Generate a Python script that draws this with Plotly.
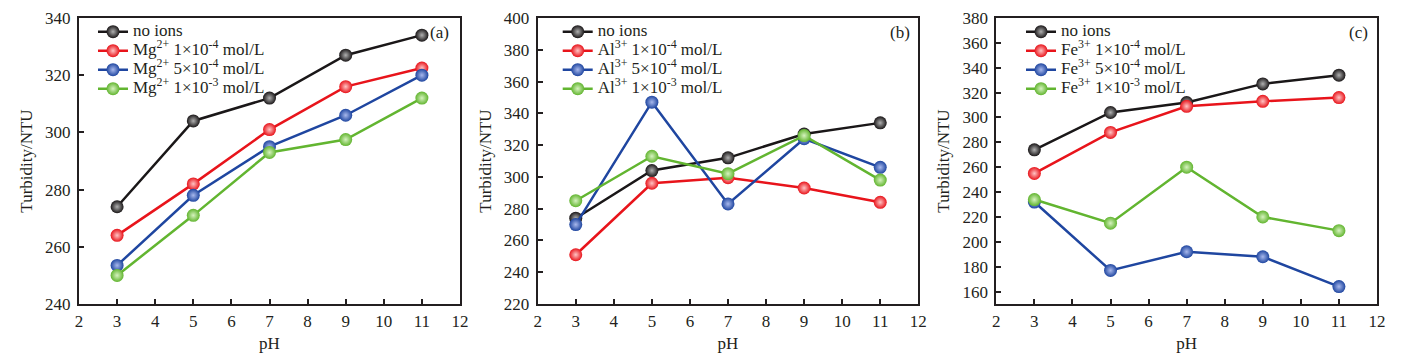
import plotly.graph_objects as go

ph = [3, 5, 7, 9, 11]

no_ions = [274, 304, 312, 327, 334]

mg_1e4 = [264, 282, 301, 316, 322.5]
mg_5e4 = [253.5, 278, 295, 306, 320]
mg_1e3 = [250, 271, 293, 297.5, 312]

al_1e4 = [251, 296, 299.5, 293, 284]
al_5e4 = [270, 347, 283, 324, 306]
al_1e3 = [285, 313, 302, 326, 298]

fe_1e4 = [255, 288, 309, 313, 316]
fe_5e4 = [232, 177, 192, 188, 164]
fe_1e3 = [234, 215, 260, 220, 209]

ion_labels = [("Mg", "2+"), ("Al", "3+"), ("Fe", "3+")]
conc_labels = [("1", "-4"), ("5", "-4"), ("1", "-3")]
panel_tags = ["(a)", "(b)", "(c)"]
y_ranges = [[240, 340], [220, 400], [150, 380]]
y_ticks = [list(range(240, 341, 20)), list(range(220, 401, 20)), list(range(160, 381, 20))]

series = [
    [mg_1e4, mg_5e4, mg_1e3],
    [al_1e4, al_5e4, al_1e3],
    [fe_1e4, fe_5e4, fe_1e3],
]

colors = ["#1a1718", "#e8141b", "#1f46a0", "#62b530"]
highlights = ["#b0b0b0", "#ffc4c4", "#a8b8ec", "#d6f2bf"]

FONT = "Liberation Serif"
INK = "#231f20"

# the page body adds an 8px margin, so the figure is 16px smaller than the window
W, H = 1390, 346
x_domains = [[0.05108, 0.32518], [0.38108, 0.65489], [0.71101, 0.98489]]
y_domain = [0.14451, 0.97110]
legend_x = [0.06115, 0.39547, 0.72878]
legend_y = 0.97341
tag_x = [0.31079, 0.64173, 0.97194]
tag_y = 0.92775


def lbl(text):
    return f'<span style="font-size:17px">{text}</span>'


fig = go.Figure()

for p in range(3):
    xa = "x" if p == 0 else f"x{p + 1}"
    ya = "y" if p == 0 else f"y{p + 1}"
    leg = "legend" if p == 0 else f"legend{p + 1}"
    names = [lbl("no ions")]
    ion, chg = ion_labels[p]
    for m, e in conc_labels:
        names.append(lbl(f"{ion}<sup>{chg}</sup> {m}×10<sup>{e}</sup> mol/L"))
    data = [no_ions] + series[p]
    for i, (nm, ys) in enumerate(zip(names, data)):
        fig.add_trace(go.Scatter(
            x=ph, y=ys, name=nm, mode="lines+markers",
            xaxis=xa, yaxis=ya, legend=leg,
            line=dict(color=colors[i], width=2.5),
            marker=dict(size=13, color=colors[i], line=dict(width=0),
                        gradient=dict(type="radial", color=highlights[i])),
        ))

axis_common = dict(
    showline=True, linecolor=INK, linewidth=2, mirror=True,
    ticks="inside", ticklen=5, tickwidth=2, tickcolor=INK,
    showgrid=False, zeroline=False,
    tickfont=dict(family=FONT, size=17, color=INK),
)

layout = dict(
    width=W, height=H,
    margin=dict(l=0, r=0, t=0, b=0, autoexpand=False),
    paper_bgcolor="white", plot_bgcolor="white",
    font=dict(family=FONT, size=17, color=INK),
    showlegend=True,
)

for p in range(3):
    sx = "" if p == 0 else str(p + 1)
    layout[f"xaxis{sx}"] = dict(
        axis_common, domain=x_domains[p], anchor=f"y{sx}",
        range=[2, 12], tickmode="array", tickvals=list(range(2, 13)),
        ticklabelstandoff=1,
        title=dict(text="pH", font=dict(family=FONT, size=17, color=INK), standoff=7),
    )
    layout[f"yaxis{sx}"] = dict(
        axis_common, domain=y_domain, anchor=f"x{sx}",
        range=y_ranges[p], tickmode="array", tickvals=y_ticks[p],
        ticklabelstandoff=3,
        title=dict(text="Turbidity/NTU", font=dict(family=FONT, size=17, color=INK), standoff=8),
    )
    leg = "legend" if p == 0 else f"legend{p + 1}"
    layout[leg] = dict(
        x=legend_x[p], y=legend_y, xanchor="left", yanchor="top",
        bgcolor="rgba(0,0,0,0)", borderwidth=0,
        font=dict(family=FONT, size=12, color=INK),
        itemclick=False, itemdoubleclick=False,
    )

fig.update_layout(**layout)

for p in range(3):
    fig.add_annotation(
        x=tag_x[p], y=tag_y, xref="paper", yref="paper",
        text=panel_tags[p], showarrow=False, xanchor="center", yanchor="middle",
        font=dict(family=FONT, size=17, color=INK),
    )

fig.write_html("out.html")
